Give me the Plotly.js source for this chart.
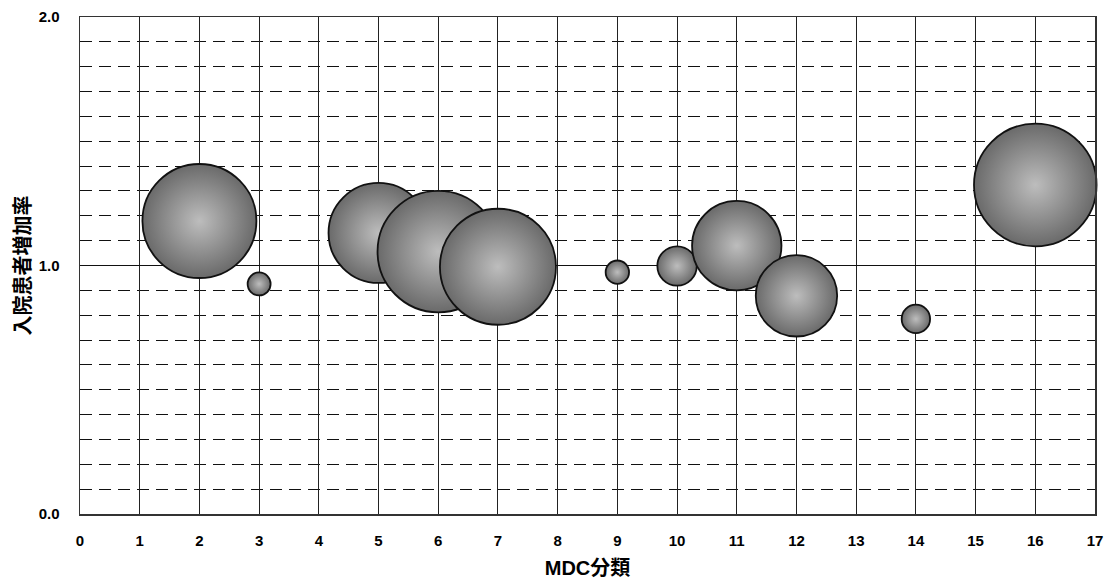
<!DOCTYPE html>
<html>
<head>
<meta charset="utf-8">
<script src="https://cdn.plot.ly/plotly-3.0.1.min.js"></script>
<style>
html,body{margin:0;padding:0;background:#fff;}
#chart{width:1115px;height:581px;}
</style>
</head>
<body>
<div id="chart"></div>
<script>
// MDC category number
var mdc = [2, 3, 5, 6, 7, 9, 10, 11, 12, 14, 16];
// inpatient increase rate
var increaseRate = [1.179, 0.926, 1.131, 1.056, 0.995, 0.973, 0.998, 1.080, 0.878, 0.785, 1.324];
// bubble size (area-proportional)
var bubbleSize = [3249, 132, 2500, 3684, 3364, 137, 388, 1998, 1656, 202, 3758];

var xTickVals = [0,1,2,3,4,5,6,7,8,9,10,11,12,13,14,15,16,17];
var yTickVals = [0, 1, 2];
var yTickText = ['0.0', '1.0', '2.0'];

var tickFont = {family: 'Liberation Sans, Arial, sans-serif', size: 15, color: '#000', weight: 'bold'};
var xTitleFont = {family: 'Liberation Sans, Noto Sans CJK JP, sans-serif', size: 20, color: '#000', weight: 'bold'};
var yTitleFont = {family: 'Noto Sans CJK JP, sans-serif', size: 20, color: '#000', weight: 'bold'};

var trace = {
  type: 'scatter',
  mode: 'markers',
  x: mdc,
  y: increaseRate,
  marker: {
    size: bubbleSize,
    sizemode: 'area',
    sizeref: 0.5,
    color: '#6a6a6a',
    gradient: {type: 'radial', color: '#bdbdbd'},
    line: {color: '#111', width: 1.8},
    opacity: 1
  },
  hoverinfo: 'x+y',
  cliponaxis: false
};

var layout = {
  width: 1115,
  height: 581,
  margin: {l: 80, r: 20, t: 17, b: 67},
  paper_bgcolor: '#fff',
  plot_bgcolor: '#fff',
  showlegend: false,
  xaxis: {
    range: [0, 17],
    tickvals: xTickVals,
    ticks: '',
    showgrid: true,
    gridcolor: '#222',
    gridwidth: 1,
    zeroline: false,
    showline: true,
    mirror: true,
    linecolor: '#333',
    linewidth: 1.5,
    tickfont: tickFont,
    ticklabelstandoff: 12,
    title: {text: 'MDC分類', font: xTitleFont, standoff: 13}
  },
  yaxis: {
    range: [0, 2],
    tickvals: yTickVals,
    ticktext: yTickText,
    ticks: '',
    showgrid: true,
    gridcolor: '#111',
    gridwidth: 1,
    zeroline: false,
    showline: true,
    mirror: true,
    linecolor: '#333',
    linewidth: 1.5,
    tickfont: tickFont,
    ticklabelstandoff: 16,
    minor: {
      dtick: 0.1,
      showgrid: true,
      gridcolor: '#111',
      gridwidth: 1,
      griddash: '12px,7px'
    },
    title: {text: '入院患者増加率', font: yTitleFont, standoff: 2}
  }
};

Plotly.newPlot('chart', [trace], layout, {displayModeBar: false, staticPlot: true});
</script>
</body>
</html>
